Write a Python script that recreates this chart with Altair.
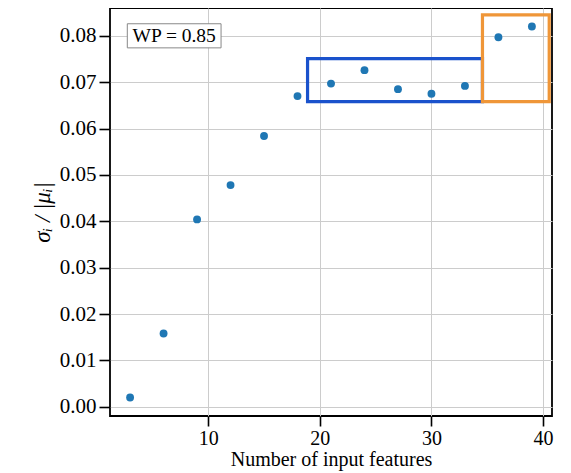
import altair as alt
import pandas as pd

features = [3, 6, 9, 12, 15, 18, 21, 24, 27, 30, 33, 36, 39]
ratio = [0.0020, 0.0158, 0.0404, 0.0478, 0.0584, 0.0670, 0.0697, 0.0726,
         0.0685, 0.0675, 0.0692, 0.0797, 0.0820]

box_x1 = [18.9, 34.57]
box_x2 = [34.57, 40.55]
box_y1 = [0.0658, 0.0658]
box_y2 = [0.0751, 0.0845]
box_color = ["#1a52cc", "#ef9638"]

label_text = ["WP = 0.85"]
label_x = [6.95]
label_y = [0.0800]
label_box_x1 = [2.75]
label_box_x2 = [11.15]
label_box_y1 = [0.0774]
label_box_y2 = [0.0826]

FONT = "Liberation Serif"
xdom = [1.2, 40.8]
ydom = [-0.002, 0.086]

df = pd.DataFrame({"x": features, "y": ratio})
boxes = pd.DataFrame({"x1": box_x1, "x2": box_x2, "y1": box_y1, "y2": box_y2, "c": box_color})
lab = pd.DataFrame({"t": label_text, "x": label_x, "y": label_y,
                    "bx1": label_box_x1, "bx2": label_box_x2,
                    "by1": label_box_y1, "by2": label_box_y2})

xscale = alt.Scale(domain=xdom, nice=False, zero=False)
yscale = alt.Scale(domain=ydom, nice=False, zero=False)

points = alt.Chart(df).mark_circle(size=62, color="#1f77b4", opacity=1).encode(
    x=alt.X("x:Q", scale=xscale,
            axis=alt.Axis(title="Number of input features", values=[10, 20, 30, 40],
                          format="d")),
    y=alt.Y("y:Q", scale=yscale,
            axis=alt.Axis(title="σᵢ / |μᵢ|", values=[0, 0.01, 0.02, 0.03, 0.04, 0.05, 0.06, 0.07, 0.08],
                          format=".2f", titleFontStyle="italic", titleFontSize=23,
                          titlePadding=5)),
)

rects = alt.Chart(boxes).mark_rect(filled=False, strokeWidth=3.2).encode(
    x="x1:Q", x2="x2", y="y1:Q", y2="y2",
    stroke=alt.Stroke("c:N", scale=None),
)

label_box = alt.Chart(lab).mark_rect(fill="white", stroke="#888888", strokeWidth=1).encode(
    x="bx1:Q", x2="bx2", y="by1:Q", y2="by2",
)
label = alt.Chart(lab).mark_text(font=FONT, fontSize=19.5, color="black").encode(
    x="x:Q", y="y:Q", text="t:N",
)

chart = alt.layer(points, rects, label_box, label).properties(
    width=442, height=408,
    autosize=alt.AutoSizeParams(type="none"),
    padding={"left": 102, "top": 0, "right": 6, "bottom": 57},
).configure_axis(
    labelFont=FONT, titleFont=FONT, labelFontSize=21, titleFontSize=20,
    labelColor="black", titleColor="black", titleFontWeight="normal",
    grid=True, gridColor="#cccccc", gridWidth=1,
    tickColor="black", tickSize=11, tickWidth=1.6, labelPadding=3,
    domain=False,
).configure_axisX(titlePadding=1, labelPadding=2, tickSize=10, labelFontSize=20).configure_view(
    stroke="black", strokeWidth=1.8
)

chart.save("out.html", embed_options={"renderer": "svg", "actions": False})
